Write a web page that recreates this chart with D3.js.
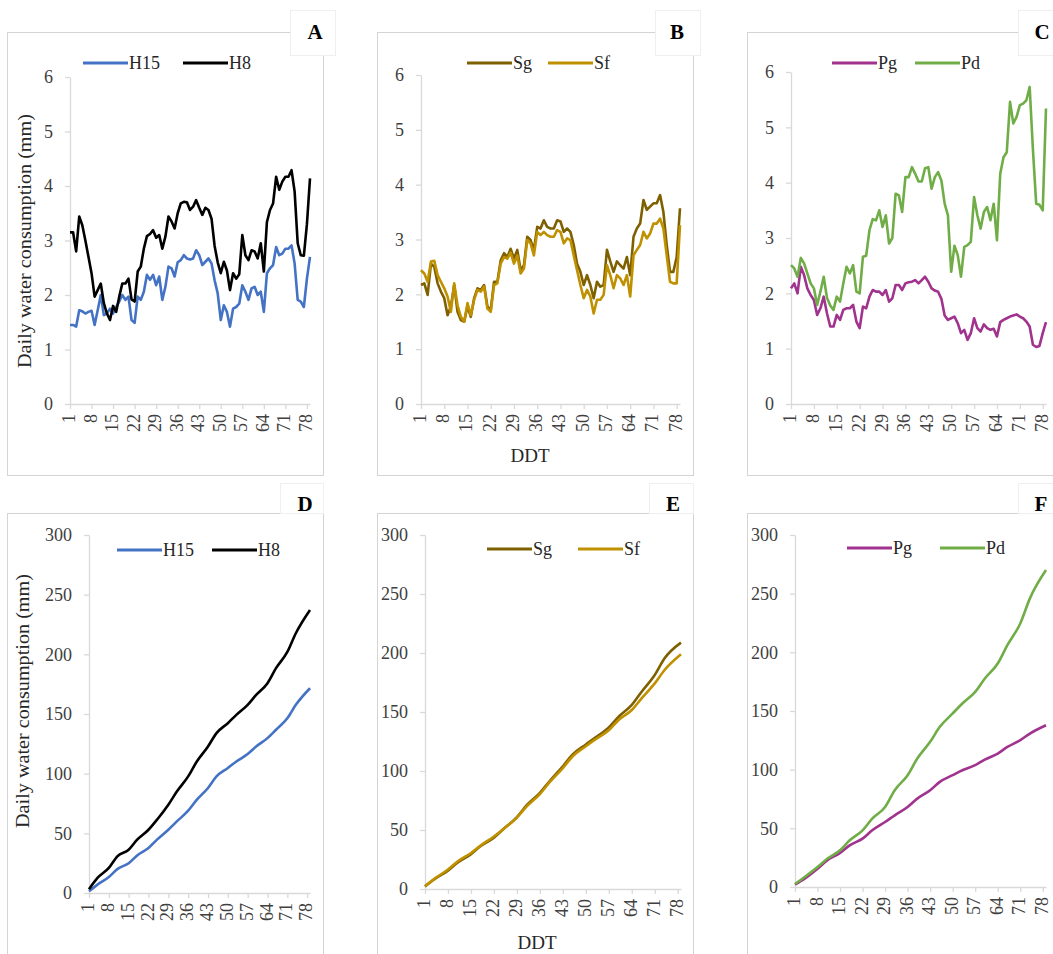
<!DOCTYPE html>
<html>
<head>
<meta charset="utf-8">
<script src="https://cdn.jsdelivr.net/npm/d3@7"></script>
<style>
  body { margin: 0; background: #fff; }
  svg { display: block; font-family: "Liberation Serif", "Times New Roman", serif; }
</style>
</head>
<body>
<script>
// daily water consumption, days 1..79
const dailyH15 = [1.45,1.45,1.42,1.72,1.70,1.66,1.69,1.71,1.45,1.72,2.00,1.63,1.66,1.75,1.66,1.78,1.88,2.00,1.91,1.97,
  1.54,1.49,1.97,1.91,2.06,2.37,2.28,2.37,2.18,2.34,1.91,2.15,2.52,2.49,2.34,2.60,2.64,2.73,2.67,2.65,
  2.67,2.82,2.73,2.55,2.61,2.67,2.58,2.27,2.03,1.54,1.81,1.69,1.42,1.75,1.78,1.84,2.18,2.06,1.91,2.12,
  2.15,2.00,2.06,1.69,2.40,2.49,2.55,2.88,2.73,2.76,2.85,2.85,2.91,2.58,1.91,1.88,1.78,2.30,2.70];
const dailyH8 = [3.15,3.15,2.80,3.44,3.28,3.00,2.70,2.40,1.97,2.09,2.21,1.85,1.66,1.54,1.80,1.69,1.97,2.21,2.21,2.30,
  1.92,1.88,2.43,2.52,2.85,3.08,3.12,3.19,3.05,3.10,2.85,3.07,3.44,3.35,3.22,3.50,3.68,3.71,3.70,3.56,
  3.62,3.74,3.60,3.47,3.60,3.56,3.40,2.90,2.60,2.40,2.61,2.45,2.09,2.40,2.30,2.38,3.10,2.73,2.64,2.82,
  2.80,2.67,2.95,2.43,3.34,3.56,3.68,4.17,3.93,4.08,4.17,4.17,4.29,3.90,2.95,2.73,2.72,3.30,4.14];
const dailySg = [2.17,2.20,1.99,2.56,2.50,2.20,2.05,1.93,1.62,1.78,2.17,1.68,1.53,1.50,1.78,1.59,1.93,2.11,2.08,2.17,
  1.78,1.71,2.23,2.23,2.62,2.75,2.68,2.83,2.65,2.81,2.44,2.53,3.05,2.99,2.81,3.23,3.20,3.35,3.23,3.20,
  3.20,3.35,3.33,3.14,3.20,3.14,2.90,2.56,2.41,2.17,2.35,2.17,1.93,2.23,2.14,2.17,2.81,2.60,2.41,2.60,
  2.53,2.47,2.68,2.35,3.05,3.20,3.29,3.72,3.54,3.60,3.66,3.66,3.81,3.50,2.90,2.41,2.41,2.68,3.57];
const dailySf = [2.44,2.38,2.23,2.60,2.61,2.35,2.23,2.11,1.96,1.68,2.20,1.80,1.59,1.50,1.84,1.62,1.90,2.08,2.05,2.14,
  1.74,1.68,2.17,2.20,2.56,2.68,2.65,2.76,2.56,2.71,2.38,2.47,2.99,2.93,2.71,3.14,3.08,3.14,3.08,3.05,
  3.05,3.17,3.14,2.93,3.02,2.99,2.71,2.44,2.17,1.93,2.08,1.96,1.65,1.90,1.90,1.99,2.53,2.35,2.11,2.35,
  2.29,2.17,2.35,1.96,2.71,2.81,2.90,3.14,3.02,3.11,3.29,3.29,3.38,3.20,2.71,2.23,2.20,2.20,3.26];
const dailyPg = [2.09,2.18,2.00,2.48,2.33,2.09,1.97,1.88,1.61,1.73,1.94,1.64,1.40,1.40,1.61,1.52,1.70,1.73,1.73,1.79,
  1.49,1.37,1.76,1.73,1.94,2.06,2.03,2.03,1.97,2.06,1.85,1.91,2.15,2.15,2.06,2.18,2.20,2.21,2.24,2.18,
  2.24,2.30,2.21,2.09,2.05,2.03,1.90,1.60,1.52,1.55,1.58,1.46,1.28,1.34,1.16,1.28,1.55,1.37,1.31,1.44,
  1.37,1.34,1.36,1.22,1.48,1.52,1.55,1.58,1.60,1.62,1.58,1.55,1.49,1.40,1.07,1.03,1.05,1.28,1.48];
const dailyPd = [2.51,2.45,2.30,2.64,2.54,2.36,2.18,2.09,1.79,2.03,2.30,1.92,1.78,1.70,1.94,1.85,2.18,2.48,2.36,2.51,
  2.03,2.00,2.66,2.68,3.14,3.34,3.32,3.50,3.20,3.41,2.90,3.00,3.80,3.77,3.47,4.10,4.10,4.28,4.16,4.02,
  4.02,4.26,4.28,3.89,4.10,4.19,4.04,3.62,3.41,2.39,2.86,2.69,2.30,2.84,2.87,2.93,3.74,3.41,3.17,3.47,
  3.56,3.32,3.62,2.96,4.16,4.46,4.55,5.46,5.07,5.19,5.40,5.43,5.49,5.73,4.60,3.62,3.60,3.50,5.34];

// cumulative water consumption, read at these days
const cumDays = [1,4,8,11,15,18,22,25,29,32,36,39,43,46,50,53,57,60,64,67,71,74,79];
const cumH15 = [1.45,7,13.4,20,25,31.5,37.7,44.7,53,60,69,78,88,97.7,104.7,110.2,116.4,122.8,129.8,136.8,146.5,157.7,171.6];
const cumH8  = [3.15,12.6,21,30.7,36.3,44.7,53,61.4,74,85,97.7,110,122.8,134,142.3,149.3,157.7,166,175.8,188.4,202,217.7,237.2];
const cumSg  = [2.2,8.5,15.5,22.5,29.5,36.5,43.5,51,61,71,81.5,91.5,104,114,122.5,128.5,137,146,156,167.2,181.4,195.5,208.8];
const cumSf  = [2.4,9,16.5,23.5,30.5,37,44.5,51,60.5,70,80.5,90.5,102.5,112.5,121,127,134.5,143.2,151.7,161.6,174.3,185.6,198.9];
const cumPg  = [2.1,7.1,15.6,22.7,29,35.5,41.2,48.3,55.4,61.1,68.2,75.3,82.5,89.6,95.3,99.5,103.8,108.6,113.7,119.4,125.1,130.8,137.9];
const cumPd  = [2.5,8.5,17,24,31.3,39.8,48.3,58.3,68.2,82.5,95.3,109.5,123.7,136.5,147.9,156.4,166.3,177.7,190.5,206.1,224.6,246,270.1];

const xTickDays = [1,8,15,22,29,36,43,50,57,64,71,78];
const dailyTicks = [0,1,2,3,4,5,6];
const cumTicks = [0,50,100,150,200,250,300];

const yTitle = "Daily water consumption (mm)";
const xTitle = "DDT";

const colors = { H15: "#4472C4", H8: "#000000", Sg: "#7F6000", Sf: "#BF9000", Pg: "#A0338E", Pd: "#70AD47" };

const daily = d => d.map((v, i) => ({ day: i + 1, value: v }));
const cum = d => d.map((v, i) => ({ day: cumDays[i], value: v }));

// layout of the six panels
const panels = [
  { letter: "A", frame: [7, 32], box: [290, 10, 45, 45], letterPos: [315, 39],
    xr: [70, 310], yr: [404, 77], ymax: 6, ticks: dailyTicks, smooth: false,
    series: [["H15", daily(dailyH15)], ["H8", daily(dailyH8)]],
    legendY: 63, legendX: [83, 183], yTitlePos: [25, 241] },
  { letter: "B", frame: [377, 32], box: [655, 10, 45, 45], letterPos: [677, 39],
    xr: [421, 680], yr: [404, 75], ymax: 6, ticks: dailyTicks, smooth: false,
    series: [["Sg", daily(dailySg)], ["Sf", daily(dailySf)]],
    legendY: 63, legendX: [467, 548], xTitlePos: [530, 462] },
  { letter: "C", frame: [747, 32], box: [1018, 10, 45, 45], letterPos: [1042, 39],
    xr: [791, 1046], yr: [404, 72], ymax: 6, ticks: dailyTicks, smooth: false,
    series: [["Pg", daily(dailyPg)], ["Pd", daily(dailyPd)]],
    legendY: 63, legendX: [832, 915] },
  { letter: "D", frame: [7, 513], box: [280, 483, 43, 30], letterPos: [305, 511],
    xr: [89, 310], yr: [893, 535], ymax: 300, ticks: cumTicks, smooth: true,
    series: [["H15", cum(cumH15)], ["H8", cum(cumH8)]],
    legendY: 550, legendX: [117, 212], yTitlePos: [23, 701] },
  { letter: "E", frame: [377, 513], box: [649, 483, 44, 30], letterPos: [673, 511],
    xr: [425, 681], yr: [889, 535], ymax: 300, ticks: cumTicks, smooth: true,
    series: [["Sg", cum(cumSg)], ["Sf", cum(cumSf)]],
    legendY: 549, legendX: [487, 578], xTitlePos: [537, 949] },
  { letter: "F", frame: [747, 513], box: [1018, 483, 45, 30], letterPos: [1041, 511],
    xr: [795, 1046], yr: [887, 535], ymax: 300, ticks: cumTicks, smooth: true,
    series: [["Pg", cum(cumPg)], ["Pd", cum(cumPd)]],
    legendY: 548, legendX: [847, 940] }
];

const svg = d3.select("body").append("svg")
    .attr("width", 1053)
    .attr("height", 954);

svg.append("rect").attr("width", 1053).attr("height", 954).attr("fill", "#fff");

panels.forEach(p => {
  const g = svg.append("g");

  // panel frame
  g.append("rect")
      .attr("x", p.frame[0] + 0.5).attr("y", p.frame[1] + 0.5)
      .attr("width", 316).attr("height", p.frame[1] < 100 ? 443 : 480)
      .attr("fill", "none")
      .attr("stroke", "#d4d4d4");

  const x = d3.scaleLinear().domain([1, 79]).range(p.xr);
  const y = d3.scaleLinear().domain([0, p.ymax]).range(p.yr);

  // axes
  const yAxis = g.append("g")
      .attr("transform", `translate(${p.xr[0]},0)`)
      .call(d3.axisLeft(y).tickValues(p.ticks).tickFormat(d3.format("d"))
        .tickSize(5).tickSizeOuter(0).tickPadding(12));

  const xAxis = g.append("g")
      .attr("transform", `translate(0,${p.yr[0]})`)
      .call(d3.axisBottom(x).tickValues(xTickDays).tickSize(5).tickSizeOuter(0));

  xAxis.selectAll("text")
      .attr("transform", "rotate(-90)")
      .attr("text-anchor", "end")
      .attr("x", -10)
      .attr("y", 0)
      .attr("dy", "0.25em");

  [yAxis, xAxis].forEach(a => {
    a.select(".domain").attr("stroke", "#d9d9d9").attr("stroke-width", 1.3);
    a.selectAll(".tick line").attr("stroke", "#d9d9d9").attr("stroke-width", 1.3);
    a.selectAll(".tick text")
        .attr("fill", "#404040")
        .style("font-size", "18px")
        .style("font-family", "'Liberation Serif', serif");
  });

  // lines
  const line = d3.line()
      .x(d => x(d.day))
      .y(d => y(d.value))
      .curve(p.smooth ? d3.curveMonotoneX : d3.curveLinear);

  p.series.forEach(([name, values]) => {
    g.append("path")
        .datum(values)
        .attr("fill", "none")
        .attr("stroke", colors[name])
        .attr("stroke-width", 2.6)
        .attr("stroke-linejoin", "round")
        .attr("d", line);
  });

  // legend
  p.series.forEach(([name], i) => {
    const lx = p.legendX[i];
    g.append("line")
        .attr("x1", lx).attr("x2", lx + 45)
        .attr("y1", p.legendY).attr("y2", p.legendY)
        .attr("stroke", colors[name])
        .attr("stroke-width", 3);
    g.append("text")
        .attr("x", lx + 46)
        .attr("y", p.legendY + 6)
        .attr("fill", "#262626")
        .style("font-size", "18px")
        .text(name);
  });

  // panel letter box
  g.append("rect")
      .attr("x", p.box[0] + 0.5).attr("y", p.box[1] + 0.5)
      .attr("width", p.box[2]).attr("height", p.box[3])
      .attr("fill", "#fff")
      .attr("stroke", "#efefef");
  g.append("text")
      .attr("x", p.letterPos[0]).attr("y", p.letterPos[1])
      .attr("text-anchor", "middle")
      .attr("font-weight", "bold")
      .attr("fill", "#000")
      .style("font-size", "21px")
      .text(p.letter);

  if (p.yTitlePos) {
    g.append("text")
        .attr("transform", `translate(${p.yTitlePos[0]},${p.yTitlePos[1]}) rotate(-90)`)
        .attr("text-anchor", "middle")
        .attr("dy", "0.35em")
        .attr("fill", "#262626")
        .attr("textLength", 254)
        .attr("lengthAdjust", "spacingAndGlyphs")
        .style("font-size", "18px")
        .text(yTitle);
  }

  if (p.xTitlePos) {
    g.append("text")
        .attr("x", p.xTitlePos[0]).attr("y", p.xTitlePos[1])
        .attr("text-anchor", "middle")
        .attr("fill", "#262626")
        .style("font-size", "19px")
        .text(xTitle);
  }
});
</script>
</body>
</html>
